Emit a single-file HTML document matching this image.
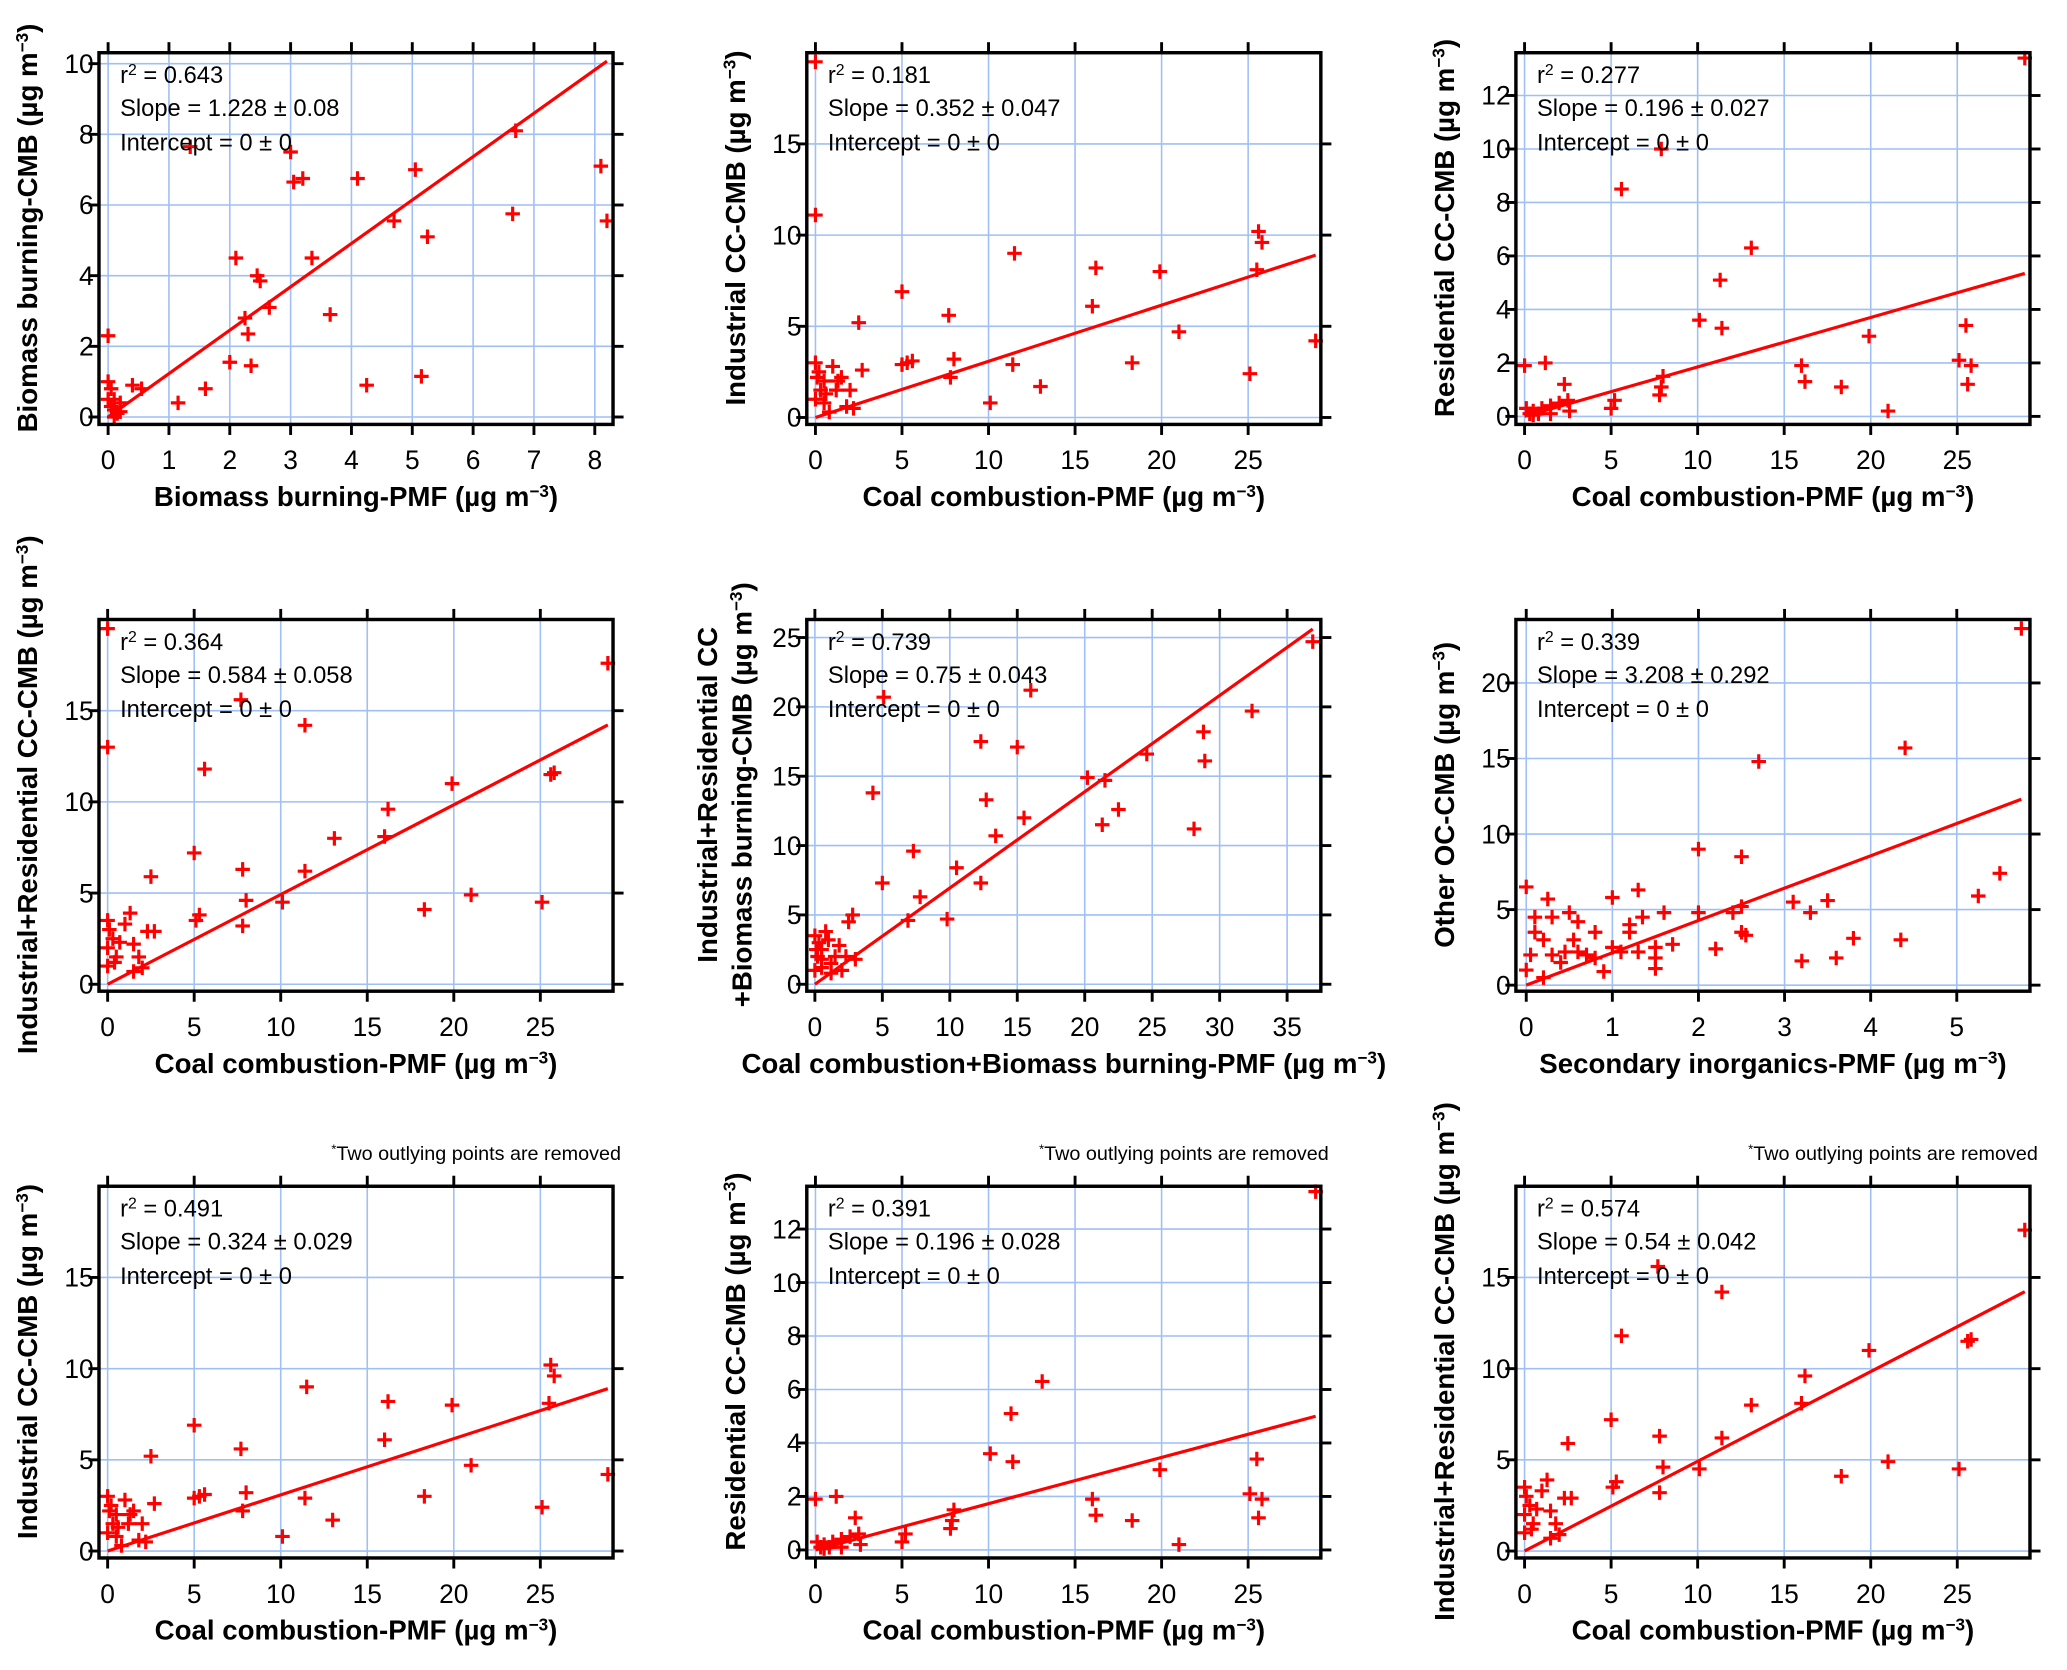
<!DOCTYPE html>
<html><head><meta charset="utf-8"><style>
html,body{margin:0;padding:0;background:#fff}
svg{display:block}
text{font-family:"Liberation Sans",sans-serif}
</style></head><body>
<svg id="fig" xmlns="http://www.w3.org/2000/svg" width="2067" height="1670" viewBox="0 0 1568 1267"></svg>
<script>
// ---- data arrays ----
const p1x=[0,0,0.05,0.1,0.05,0.1,0.15,0.1,0.2,0.2,0,0.4,0.55,1.15,1.6,2.0,2.1,2.25,2.3,2.35,2.45,2.5,2.65,3.0,3.05,3.2,3.35,3.65,4.1,4.25,4.7,5.05,5.15,5.25,6.65,6.7,8.1,8.2,1.35];
const p1y=[2.3,1.0,0.8,0.5,0.3,0.2,0.1,0,0.4,0.15,0.5,0.9,0.8,0.4,0.8,1.55,4.5,2.8,2.35,1.45,4.0,3.85,3.1,7.5,6.65,6.75,4.5,2.9,6.75,0.9,5.55,7.0,1.15,5.1,5.75,8.1,7.1,5.55,7.65];
const p2x=[0,0,0,0.2,0.5,0.3,0,0.5,1,1.5,1.2,2,1.8,2.2,0.8,1.3,2.5,2.7,5,5,5.3,5.6,7.7,7.8,8,10.1,11.4,11.5,13,16,16.2,18.3,19.9,21,25.1,25.5,25.6,25.8,28.9,0.6,0.1];
const p2y=[19.5,11.1,3,2.5,2,1.5,1,0.8,2.8,2.2,1.5,1.5,0.6,0.5,0.3,2.0,5.2,2.6,6.9,2.9,3,3.1,5.6,2.2,3.2,0.8,2.9,9,1.7,6.1,8.2,3,8,4.7,2.4,8.1,10.2,9.6,4.2,1.3,2.2];
const p3x=[0,0.1,0.3,0.5,0.8,1,1.2,1.5,2,2.3,2.5,2.6,5,5.2,5.6,7.8,7.9,8,7.9,10.1,11.3,11.4,13.1,16,16.2,18.3,19.9,21,25.1,25.5,25.6,25.8,28.9,0.5,1.5];
const p3y=[1.9,0.3,0.1,0.2,0.1,0.3,2.0,0.1,0.5,1.2,0.6,0.2,0.3,0.6,8.5,0.8,1.1,1.5,10,3.6,5.1,3.3,6.3,1.9,1.3,1.1,3,0.2,2.1,3.4,1.2,1.9,13.4,0.05,0.4];
const p4x=[0,0,0,0.1,0.3,0,0.5,0,1,1.3,1.5,1.8,2,1.5,2.5,2.3,2.7,0.7,0.4,5,5.1,5.3,5.6,7.7,7.8,8,7.8,10.1,11.4,11.4,13.1,16,16.2,18.3,19.9,21,25.1,25.6,25.8,28.9];
const p4y=[19.5,13,3.5,3,2.5,2,1.5,1,3.3,3.9,2.2,1.5,0.9,0.7,5.9,2.9,2.9,2.3,1.2,7.2,3.5,3.8,11.8,15.6,6.3,4.6,3.2,4.5,14.2,6.2,8,8.1,9.6,4.1,11,4.9,4.5,11.5,11.6,17.6];
const p5x=[0,0.2,0.3,0.5,0.8,1,1.2,1.5,0.5,2,2.3,2.5,2.8,3,0,0.1,1.8,4.3,5,5.1,6.9,7.3,7.8,9.8,10.5,12.3,12.3,12.7,13.4,15,15.5,16,20.2,21.3,21.5,22.5,24.6,28.1,28.8,28.9,32.4,36.9,0.5,1.2];
const p5y=[1,2,3,2.5,3.8,3.2,1.5,2,1.2,1,2,4.5,5,1.8,3.5,2.5,2.8,13.8,7.3,20.7,4.6,9.6,6.3,4.7,8.4,7.3,17.5,13.3,10.7,17.1,12,21.2,14.9,11.5,14.7,12.6,16.6,11.2,18.2,16.1,19.7,24.7,1.8,0.8];
const p6x=[0,0,0.05,0.1,0.1,0.2,0.25,0.3,0.3,0.4,0.45,0.5,0.55,0.6,0.7,0.8,0.8,1,1,1.1,1.2,1.2,1.3,1.35,1.3,1.5,1.5,1.6,1.5,1.7,0.6,2.0,2.0,2.2,2.4,2.5,2.5,2.55,2.5,2.7,3.1,3.2,3.3,3.5,3.6,3.8,4.35,4.4,5.25,5.5,5.75,0.2,0.9];
const p6y=[6.5,1,2,3.5,4.5,3,5.7,2,4.5,1.5,2.2,4.8,3,2.2,2,1.8,3.5,2.5,5.8,2.2,3.5,4,6.3,4.5,2.2,2.5,1.1,4.8,1.8,2.7,4.2,9,4.8,2.4,4.8,8.5,3.5,3.3,5.2,14.8,5.5,1.6,4.8,5.6,1.8,3.1,3,15.7,5.9,7.4,23.6,0.5,0.9];
const p7x=p2x.slice(2), p7y=p2y.slice(2);
const p8x=p3x.filter((v,i)=>!(i===14||i===18)), p8y=p3y.filter((v,i)=>!(i===14||i===18));
const p9x=p4x.slice(2), p9y=p4y.slice(2);
const lineSlopes=[1.228,0.308,0.185,0.492,0.694,2.14,0.308,0.173,0.492];
const lineEnds=[8.2,28.9,28.9,28.9,36.9,5.75,28.9,28.9,28.9];
const r2Labels=["0.643","0.181","0.277","0.364","0.739","0.339","0.491","0.391","0.574"];
const slopeLabels=["1.228 ± 0.08","0.352 ± 0.047","0.196 ± 0.027","0.584 ± 0.058","0.75 ± 0.043","3.208 ± 0.292","0.324 ± 0.029","0.196 ± 0.028","0.54 ± 0.042"];
const xTicks1=[0,1,2,3,4,5,6,7,8], yTicks1=[0,2,4,6,8,10];
const xTicksCC=[0,5,10,15,20,25], yTicksCC=[0,5,10,15], yTicksRes=[0,2,4,6,8,10,12];
const xTicks5=[0,5,10,15,20,25,30,35], yTicks5=[0,5,10,15,20,25];
const xTicks6=[0,1,2,3,4,5], yTicks6=[0,5,10,15,20];

const NS="http://www.w3.org/2000/svg";
const svg=document.getElementById('fig');
function mk(tag,attrs,parent){const e=document.createElementNS(NS,tag);for(const k in attrs)e.setAttribute(k,attrs[k]);(parent||svg).appendChild(e);return e;}
const FW=390,FH=282;
const panels=[
 {L:75,T:40,xd:[-0.15,8.3],yd:[-0.21,10.31],xt:xTicks1,yt:yTicks1,x:p1x,y:p1y,xl:"Biomass burning-PMF",yl:["Biomass burning-CMB"],note:false},
 {L:612,T:40,xd:[-0.5,29.2],yd:[-0.38,20],xt:xTicksCC,yt:yTicksCC,x:p2x,y:p2y,xl:"Coal combustion-PMF",yl:["Industrial CC-CMB"],note:false},
 {L:1150,T:40,xd:[-0.5,29.2],yd:[-0.3,13.6],xt:xTicksCC,yt:yTicksRes,x:p3x,y:p3y,xl:"Coal combustion-PMF",yl:["Residential CC-CMB"],note:false},
 {L:75,T:470,xd:[-0.5,29.2],yd:[-0.38,20],xt:xTicksCC,yt:yTicksCC,x:p4x,y:p4y,xl:"Coal combustion-PMF",yl:["Industrial+Residential CC-CMB"],note:false},
 {L:612,T:470,xd:[-0.6,37.5],yd:[-0.5,26.3],xt:xTicks5,yt:yTicks5,x:p5x,y:p5y,xl:"Coal combustion+Biomass burning-PMF",yl:["Industrial+Residential CC","+Biomass burning-CMB"],note:false},
 {L:1150,T:470,xd:[-0.12,5.85],yd:[-0.4,24.2],xt:xTicks6,yt:yTicks6,x:p6x,y:p6y,xl:"Secondary inorganics-PMF",yl:["Other OC-CMB"],note:false},
 {L:75,T:900,xd:[-0.5,29.2],yd:[-0.38,20],xt:xTicksCC,yt:yTicksCC,x:p7x,y:p7y,xl:"Coal combustion-PMF",yl:["Industrial CC-CMB"],note:true},
 {L:612,T:900,xd:[-0.5,29.2],yd:[-0.3,13.6],xt:xTicksCC,yt:yTicksRes,x:p8x,y:p8y,xl:"Coal combustion-PMF",yl:["Residential CC-CMB"],note:true},
 {L:1150,T:900,xd:[-0.5,29.2],yd:[-0.38,20],xt:xTicksCC,yt:yTicksCC,x:p9x,y:p9y,xl:"Coal combustion-PMF",yl:["Industrial+Residential CC-CMB"],note:true}
];
panels.forEach((p,i)=>{
  const g=mk('g',{});
  
  
  const sx=v=>p.L+(v-p.xd[0])/(p.xd[1]-p.xd[0])*FW;
  const sy=v=>p.T+FH-(v-p.yd[0])/(p.yd[1]-p.yd[0])*FH;
  p.xt.forEach(t=>{const l=mk('line',{x1:sx(t),x2:sx(t),y1:p.T,y2:p.T+FH,stroke:'#9fbff5','stroke-width':1.2},g);});
  p.yt.forEach(t=>{const l=mk('line',{x1:p.L,x2:p.L+FW,y1:sy(t),y2:sy(t),stroke:'#9fbff5','stroke-width':1.2},g);});
  p.xt.forEach(t=>{
    const x=sx(t);
    mk('line',{x1:x,x2:x,y1:p.T+FH,y2:p.T+FH+8,stroke:'#000','stroke-width':2.2},g);
    mk('line',{x1:x,x2:x,y1:p.T-8,y2:p.T,stroke:'#000','stroke-width':2.2},g);
    const tx=mk('text',{x:x,y:p.T+FH+34,'text-anchor':'middle','font-size':20},g);tx.textContent=t;
    
  });
  p.yt.forEach(t=>{
    const y=sy(t);
    mk('line',{x1:p.L-8,x2:p.L,y1:y,y2:y,stroke:'#000','stroke-width':2.2},g);
    mk('line',{x1:p.L+FW,x2:p.L+FW+8,y1:y,y2:y,stroke:'#000','stroke-width':2.2},g);
    const tx=mk('text',{x:p.L-4,y:y+7,'text-anchor':'end','font-size':20},g);tx.textContent=t;
    
  });
  const fl=mk('line',{x1:sx(0),y1:sy(0),x2:sx(lineEnds[i]),y2:sy(lineEnds[i]*lineSlopes[i]),stroke:'#f00','stroke-width':2.4},g);
  
  p.x.forEach((v,k)=>{
    const cx=sx(v),cy=sy(p.y[k]);
    const pt=mk('path',{d:`M${cx-5.5},${cy}H${cx+5.5}M${cx},${cy-5.5}V${cy+5.5}`,stroke:'#f00','stroke-width':2.4,fill:'none'},g);
    
  });
  const fr=mk('rect',{x:p.L,y:p.T,width:FW,height:FH,fill:'none',stroke:'#000','stroke-width':2.6},g);
  
  const st=mk('text',{x:p.L+16,y:p.T+23,'font-size':18},g);
  
  st.innerHTML='r<tspan dy="-6" font-size="12">2</tspan><tspan dy="6"> = '+r2Labels[i]+'</tspan>';
  const s2=mk('text',{x:p.L+16,y:p.T+48,'font-size':18},g);s2.textContent='Slope = '+slopeLabels[i];
  
  const s3=mk('text',{x:p.L+16,y:p.T+74,'font-size':18},g);s3.textContent='Intercept = 0 ± 0';
  
  const xt=mk('text',{x:p.L+FW/2,y:p.T+FH+62,'text-anchor':'middle','font-size':21,'font-weight':'bold'},g);
  
  xt.innerHTML=p.xl+' (µg m<tspan dy="-7" font-size="13">−3</tspan><tspan dy="7">)</tspan>';
  const cy=p.T+FH/2-8;
  p.yl.forEach((line,j)=>{
    const n=p.yl.length;
    const xx=p.L-(n===2?(j===0?68:42):47);
    const yt=mk('text',{x:0,y:0,transform:`translate(${xx},${cy}) rotate(-90)`,'text-anchor':'middle','font-size':21,'font-weight':'bold'},g);
    
    if(j===n-1) yt.innerHTML=line+' (µg m<tspan dy="-7" font-size="13">−3</tspan><tspan dy="7">)</tspan>';
    else yt.textContent=line;
  });
  if(p.note){
    const nt=mk('text',{x:p.L+FW+6,y:p.T-20,'text-anchor':'end','font-size':15},g);
    
    nt.innerHTML='<tspan dy="-5" font-size="10">*</tspan><tspan dy="5">Two outlying points are removed</tspan>';
  }
});
</script>
</body></html>
